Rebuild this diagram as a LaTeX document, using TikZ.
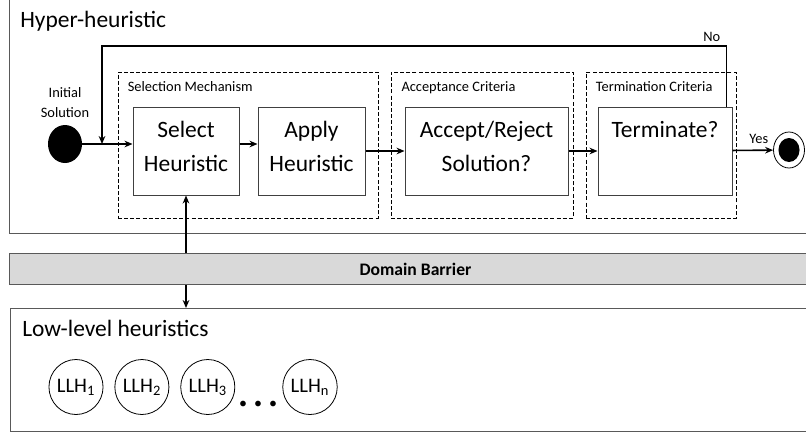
\documentclass[tikz,border=0pt]{standalone}
\usepackage{fontspec}
\setmainfont{Carlito}
\usetikzlibrary{arrows.meta, shapes.geometric, positioning}

\tikzset{
  frame/.style={draw=black!65, line width=0.75pt, rectangle, inner sep=0pt, anchor=north west},
  group/.style={draw, dash pattern=on 3pt off 1.6pt, line width=0.6pt, minimum height=109.5pt, inner sep=0pt},
  stage/.style={draw=black!75, line width=0.75pt, minimum height=66pt, inner sep=0pt, align=center, text depth=7pt, font=\fontsize{17.6}{25}\selectfont},
  title/.style={anchor=base west, inner sep=0pt, font=\fontsize{17.6}{20}\selectfont},
  small/.style={inner sep=0pt, font=\fontsize{10.8}{15}\selectfont},
  llh/.style={draw, ellipse, line width=0.6pt, minimum width=39.75pt, minimum height=41.25pt, inner sep=0pt, font=\fontsize{15.5}{18}\selectfont},
  flow/.style={draw, line width=1.2pt, -{Stealth[length=6pt,width=5pt]}},
}

\begin{document}
\begin{tikzpicture}[x=0.75pt, y=-0.75pt]
  \useasboundingbox (0,0) rectangle (806,433);
  \clip (0,0) rectangle (806,433);

  % the three layers
  \node[frame, minimum width=615pt, minimum height=177pt] (hyper) at (9,-3) {};
  \node[frame, fill=black!15, minimum width=609pt, minimum height=23.25pt,
        font=\bfseries\fontsize{13.2}{15}\selectfont, anchor=north west] (dom) at (9,253) {Domain Barrier};
  \node[frame, minimum width=615pt, minimum height=92.25pt] (low) at (10,308) {};

  \node[title] (hhT) at (20,27) {Hyper-heuristic};
  \node[title] (llT) at (22,336) {Low-level heuristics};

  % dashed groups
  \node[group, minimum width=195pt] (selG) at (248,145) {};
  \node[group, minimum width=136.5pt] (accG) at (482,145) {};
  \node[group, minimum width=112.5pt] (termG) at (661,145) {};

  \node[small, anchor=base west] (selT) at ([xshift=7.5pt, yshift=-15pt]selG.north west) {Selection Mechanism};
  \node[small, anchor=base west] (accT) at ([xshift=8pt, yshift=-15pt]accG.north west) {Acceptance Criteria};
  \node[small, anchor=base west] (termT) at ([xshift=7.5pt, yshift=-15pt]termG.north west) {Termination Criteria};

  % stages
  \node[stage, minimum width=79.5pt] (sel) at (186,151) {Select\\Heuristic};
  \node[stage, minimum width=80.25pt, right=13.5pt of sel] (app) {Apply\\Heuristic};
  \node[stage, minimum width=122.25pt, right=29.25pt of app] (acc) {Accept/Reject\\Solution?};
  \node[stage, minimum width=100.5pt, right=21.75pt of acc] (term) {Terminate?\\\phantom{Heuristic}};

  % start and end
  \node[ellipse, fill=black, minimum width=25.5pt, minimum height=28.5pt, inner sep=0pt] (init) at (65,144) {};
  \node[small, align=center, above=5pt of init] (initT) {Initial\\Solution};
  \node[ellipse, draw, line width=0.6pt, minimum width=23.25pt, minimum height=27pt, inner sep=0pt,
        path picture={\fill (path picture bounding box.center) ellipse (7.9pt and 9pt);}] (fin) at (789,150) {};

  % low-level heuristics
  \node[llh] (h1) at (76,387) {LLH\textsubscript{1}};
  \node[llh, right=8.25pt of h1] (h2) {LLH\textsubscript{2}};
  \node[llh, right=8.25pt of h2] (h3) {LLH\textsubscript{3}};
  \node[llh] (hn) at (310,387) {LLH\textsubscript{n}};
  \node[inner sep=0pt, font=\fontsize{12}{12}\selectfont] (dots) at (258,405)
    {\makebox[11.25pt]{\textbullet}\makebox[11.25pt]{\textbullet}\makebox[11.25pt]{\textbullet}};

  % flow
  \draw[flow] (init) -- (init -| sel.west);
  \draw[flow] (init -| sel.east) -- (init -| app.west);
  \path[flow] (app) edge (acc) (acc) edge (term)
              (term) edge node[small, above=4.5pt, xshift=4.5pt] {Yes} (fin);

  \coordinate (tup) at ([xshift=-4.5pt]term.north east);
  \coordinate (back) at (102,46);
  \coordinate (turn) at (tup |- back);
  \draw[flow] (tup) -- (turn) -- (back) -- (back |- init);
  \node[small, above left=3pt and 4.5pt of turn] (no) {No};

  \draw[flow] (dom.north -| sel.south) -- (sel.south);
  \draw[flow] (dom.south -| sel.south) -- (low.north -| sel.south);
\end{tikzpicture}
\end{document}
